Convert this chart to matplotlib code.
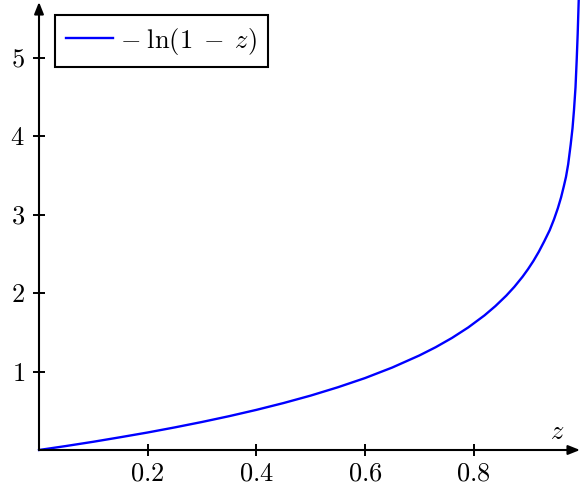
import matplotlib
matplotlib.use("Agg")
import matplotlib.pyplot as plt

# values
zVals = [0.0, 0.05, 0.1, 0.15, 0.2, 0.25, 0.3, 0.35, 0.4, 0.45, 0.5, 0.55, 0.6, 0.65,
         0.7, 0.73, 0.76, 0.79, 0.82, 0.84, 0.86, 0.875, 0.89, 0.9, 0.91, 0.92, 0.93,
         0.94, 0.948, 0.955, 0.961, 0.966, 0.970, 0.974, 0.9786, 0.982, 0.9847, 0.9875,
         0.9897, 0.9915, 0.9934]
yVals = [0.0, 0.051, 0.105, 0.163, 0.223, 0.288, 0.357, 0.431, 0.511, 0.598, 0.693,
         0.799, 0.916, 1.050, 1.204, 1.309, 1.427, 1.561, 1.715, 1.833, 1.966, 2.079,
         2.207, 2.303, 2.408, 2.526, 2.659, 2.80, 2.94, 3.08, 3.22, 3.36, 3.48,
         3.64, 3.89, 4.10, 4.33, 4.62, 4.97, 5.30, 5.73]
xTicks = [0.2, 0.4, 0.6, 0.8]
xTickLabels = ["0.2", "0.4", "0.6", "0.8"]
yTicks = [1, 2, 3, 4, 5]
yTickLabels = ["1", "2", "3", "4", "5"]
legendLabel = r"$-\;\ln(1\;-\;z)\;$"
xLabel = r"$z$"

plt.rcParams['mathtext.fontset'] = 'cm'
plt.rcParams['font.family'] = 'serif'
plt.rcParams['font.serif'] = ['cmr10', 'DejaVu Serif']
plt.rcParams['axes.formatter.use_mathtext'] = True

W, H = 580, 493
fig = plt.figure(figsize=(W/100, H/100), dpi=100)
ax = fig.add_axes([39/W, 43/H, 541/W, 448/H])

ax.plot(zVals, yVals, color='blue', lw=1.7, label=legendLabel, clip_on=False, zorder=3)

ax.set_xlim(0, 541/543.3)
ax.set_ylim(0, 448/78.5)

for s in ['top', 'right', 'left', 'bottom']:
    ax.spines[s].set_visible(False)

# axis lines with arrow heads
arrowProps = dict(arrowstyle='-|>,head_length=0.7,head_width=0.28', lw=1.5, color='black',
                  shrinkA=0, shrinkB=0)
ax.annotate('', xy=(1, 0), xytext=(0, 0), xycoords='axes fraction', arrowprops=arrowProps)
ax.annotate('', xy=(0, 1), xytext=(0, 0), xycoords='axes fraction', arrowprops=arrowProps)

ax.set_xticks(xTicks)
ax.set_xticklabels(["$%s$" % t for t in xTickLabels])
ax.set_yticks(yTicks)
ax.set_yticklabels(["$%s$" % t for t in yTickLabels])
ax.tick_params(direction='inout', length=8.6, width=1.4, labelsize=19)
ax.tick_params(axis='x', pad=4)
ax.tick_params(axis='y', pad=6)

ax.text(0.9575, 0.04, xLabel, transform=ax.transAxes, fontsize=19, ha='center', va='center')

leg = ax.legend(loc='upper left', bbox_to_anchor=(16/541, 1 - 13/448), fontsize=19,
                handlelength=1.78, fancybox=False, framealpha=1, borderpad=0.4,
                handletextpad=0.3, borderaxespad=0)
leg.get_frame().set_edgecolor('black')
leg.get_frame().set_linewidth(1.5)

fig.savefig("out.png", dpi=100)
